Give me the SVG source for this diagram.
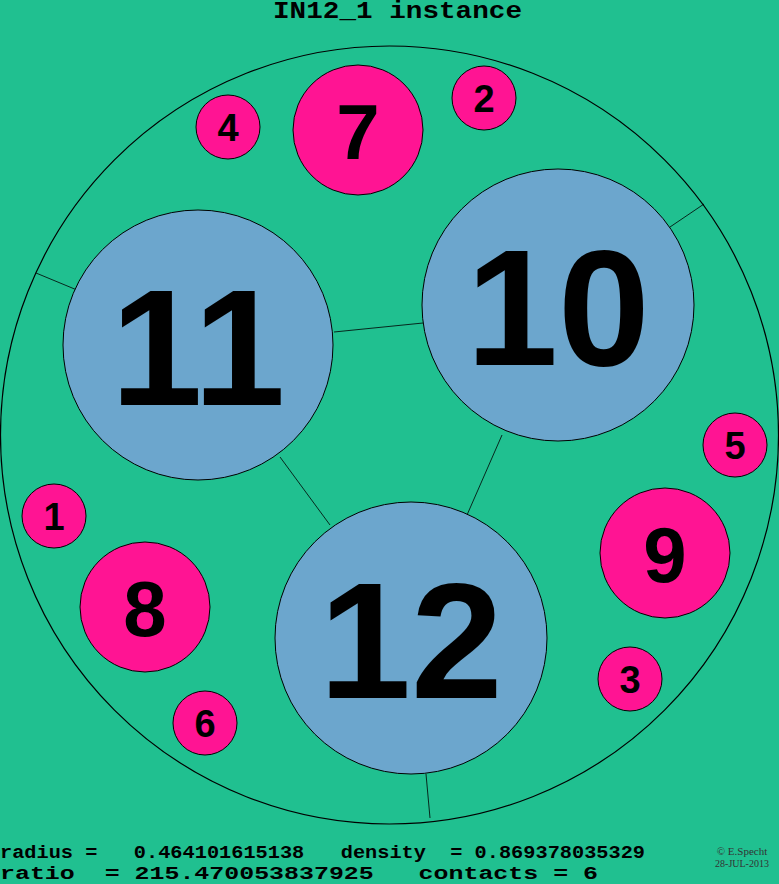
<svg xmlns="http://www.w3.org/2000/svg" width="779" height="884" viewBox="0 0 779 884">
<style>
.m{font-family:"Liberation Mono","DejaVu Sans Mono",monospace;font-weight:bold;fill:#000}
.n{font-family:"Liberation Sans",Arial,sans-serif;font-weight:bold;fill:#000;text-anchor:middle;dominant-baseline:central}
.b circle{fill:#6ca6cd;stroke:#000;stroke-width:1}
.p circle{fill:#ff1493;stroke:#000;stroke-width:1}
</style>
<rect width="779" height="884" fill="#20c090"/>
<circle cx="389.5" cy="435" r="389" fill="none" stroke="#000" stroke-width="1.2"/>
<text class="m" x="273" y="18" font-size="23" textLength="249" lengthAdjust="spacingAndGlyphs">IN12_1 instance</text>
<g id="connectors" stroke="#000" stroke-width="0.8">
<line x1="334" y1="332" x2="423" y2="323"/>
<line x1="502" y1="435" x2="467" y2="515"/>
<line x1="280" y1="457" x2="330" y2="525"/>
<line x1="670" y1="227" x2="704" y2="204"/>
<line x1="77" y1="290" x2="36" y2="273"/>
<line x1="426" y1="774" x2="430" y2="818"/>
</g>
<g id="n11" class="b"><circle cx="198" cy="345" r="135"/><text class="n" x="198" y="348" font-size="165">11</text></g>
<g id="n10" class="b"><circle cx="558" cy="305" r="136"/><text class="n" x="558" y="308" font-size="165">10</text></g>
<g id="n12" class="b"><circle cx="411" cy="638" r="136"/><text class="n" x="411" y="641" font-size="165">12</text></g>
<g id="n7" class="p"><circle cx="358" cy="130" r="65"/><text class="n" x="358" y="132" font-size="78">7</text></g>
<g id="n9" class="p"><circle cx="665" cy="553" r="65"/><text class="n" x="665" y="555" font-size="78">9</text></g>
<g id="n8" class="p"><circle cx="145" cy="607" r="65"/><text class="n" x="145" y="609" font-size="78">8</text></g>
<g id="n4" class="p"><circle cx="228" cy="127" r="32"/><text class="n" x="228" y="128" font-size="38">4</text></g>
<g id="n2" class="p"><circle cx="484" cy="98" r="32"/><text class="n" x="484" y="99" font-size="38">2</text></g>
<g id="n5" class="p"><circle cx="735" cy="445" r="32"/><text class="n" x="735" y="446" font-size="38">5</text></g>
<g id="n3" class="p"><circle cx="630" cy="679" r="32"/><text class="n" x="630" y="680" font-size="38">3</text></g>
<g id="n1" class="p"><circle cx="54" cy="516" r="32"/><text class="n" x="54" y="517" font-size="38">1</text></g>
<g id="n6" class="p"><circle cx="205" cy="723" r="32"/><text class="n" x="205" y="724" font-size="38">6</text></g>
<text class="m" x="0" y="858" font-size="19" textLength="645" lengthAdjust="spacingAndGlyphs" xml:space="preserve">radius =   0.464101615138   density  = 0.869378035329</text>
<text class="m" x="0" y="879" font-size="19" textLength="598" lengthAdjust="spacingAndGlyphs" xml:space="preserve">ratio  = 215.470053837925   contacts = 6</text>
<text x="742" y="855" font-size="11" text-anchor="middle" font-family="Liberation Serif,serif" fill="#333">© E.Specht</text>
<text x="742" y="867" font-size="10" text-anchor="middle" font-family="Liberation Serif,serif" fill="#333">28-JUL-2013</text>
</svg>
